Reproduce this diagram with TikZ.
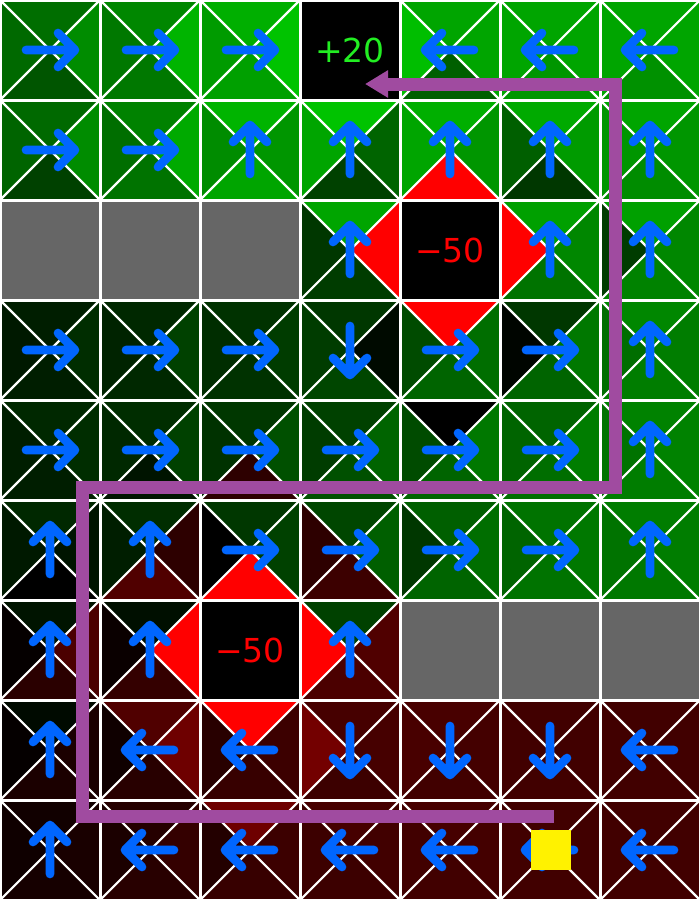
\documentclass[tikz,border=0pt]{standalone}
\usepackage{fontspec}
\setmainfont{DejaVu Sans}
\usetikzlibrary{arrows.meta}
\definecolor{arrblue}{RGB}{0,102,255}
\definecolor{wallgray}{RGB}{102,102,102}
\definecolor{pathpurple}{RGB}{160,75,160}
\definecolor{goodgreen}{RGB}{34,238,34}
\definecolor{badred}{RGB}{255,0,0}
\newcommand\tcol[2]{\ifnum#2<0 \definecolor{#1}{RGB}{\number\numexpr 0-(#2)\relax,0,0}\else\definecolor{#1}{RGB}{0,#2,0}\fi}
\newcommand\qcell[6]{%
 \tcol{cN}{#3}\tcol{cE}{#4}\tcol{cS}{#5}\tcol{cW}{#6}%
 \fill[cN] (#1*100,#2*100) -- (#1*100+100,#2*100) -- (#1*100+50,#2*100+50) -- cycle;
 \fill[cE] (#1*100+100,#2*100) -- (#1*100+100,#2*100+100) -- (#1*100+50,#2*100+50) -- cycle;
 \fill[cS] (#1*100,#2*100+100) -- (#1*100+100,#2*100+100) -- (#1*100+50,#2*100+50) -- cycle;
 \fill[cW] (#1*100,#2*100) -- (#1*100,#2*100+100) -- (#1*100+50,#2*100+50) -- cycle;
 \draw[diagline] (#1*100,#2*100) -- (#1*100+100,#2*100+100) (#1*100+100,#2*100) -- (#1*100,#2*100+100);
}
\newcommand\wall[2]{\fill[wallgray] (#1*100,#2*100) rectangle (#1*100+100,#2*100+100);}
\newcommand\term[3]{\fill[black] (#1*100,#2*100) rectangle (#1*100+100,#2*100+100);}
\newcommand\aR[2]{\draw[polarrow] (#1*100+26,#2*100+50) -- (#1*100+75,#2*100+50) (#1*100+58,#2*100+33) -- (#1*100+75,#2*100+50) -- (#1*100+58,#2*100+67);}
\newcommand\aL[2]{\draw[polarrow] (#1*100+74,#2*100+50) -- (#1*100+25,#2*100+50) (#1*100+42,#2*100+33) -- (#1*100+25,#2*100+50) -- (#1*100+42,#2*100+67);}
\newcommand\aU[2]{\draw[polarrow] (#1*100+50,#2*100+74) -- (#1*100+50,#2*100+25) (#1*100+33,#2*100+42) -- (#1*100+50,#2*100+25) -- (#1*100+67,#2*100+42);}
\newcommand\aD[2]{\draw[polarrow] (#1*100+50,#2*100+26) -- (#1*100+50,#2*100+75) (#1*100+33,#2*100+58) -- (#1*100+50,#2*100+75) -- (#1*100+67,#2*100+58);}
\begin{document}
\begin{tikzpicture}[x=0.75pt,y=-0.75pt,
  diagline/.style={draw=white,line width=1.6pt},
  gridline/.style={draw=white,line width=2.25pt},
  polarrow/.style={draw=arrblue,line width=6.5pt,line cap=round,line join=round},
  rewardtext/.style={font=\fontsize{24.75}{30}\selectfont,inner sep=0pt}]
\useasboundingbox (0,0) rectangle (700,900);
% row 0
\qcell{0}{0}{110}{140}{85}{105}
\qcell{1}{0}{135}{180}{120}{120}
\qcell{2}{0}{175}{195}{160}{155}
\term{3}{0}{}
\qcell{4}{0}{165}{165}{95}{190}
\qcell{5}{0}{165}{165}{150}{165}
\qcell{6}{0}{165}{165}{145}{165}
% row 1
\qcell{0}{1}{105}{140}{65}{100}
\qcell{1}{1}{130}{170}{115}{110}
\qcell{2}{1}{180}{150}{165}{140}
\qcell{3}{1}{195}{100}{65}{165}
\qcell{4}{1}{175}{150}{-255}{165}
\qcell{5}{1}{170}{155}{55}{95}
\qcell{6}{1}{165}{150}{140}{150}
% row 2
\wall{0}{2}\wall{1}{2}\wall{2}{2}
\qcell{3}{2}{165}{-255}{60}{55}
\term{4}{2}{}
\qcell{5}{2}{160}{135}{115}{-255}
\qcell{6}{2}{160}{135}{130}{60}
% row 3
\qcell{0}{3}{30}{45}{30}{25}
\qcell{1}{3}{40}{65}{40}{35}
\qcell{2}{3}{50}{60}{50}{45}
\qcell{3}{3}{55}{10}{70}{60}
\qcell{4}{3}{-255}{110}{100}{75}
\qcell{5}{3}{55}{120}{100}{5}
\qcell{6}{3}{135}{125}{125}{110}
% row 4
\qcell{0}{4}{40}{45}{30}{30}
\qcell{1}{4}{45}{65}{20}{40}
\qcell{2}{4}{55}{80}{-45}{50}
\qcell{3}{4}{65}{100}{80}{60}
\qcell{4}{4}{0}{120}{100}{75}
\qcell{5}{4}{100}{125}{110}{100}
\qcell{6}{4}{130}{130}{125}{115}
% row 5
\qcell{0}{5}{40}{20}{0}{25}
\qcell{1}{5}{45}{-45}{-80}{30}
\qcell{2}{5}{55}{65}{-255}{0}
\qcell{3}{5}{70}{95}{-60}{-45}
\qcell{4}{5}{95}{110}{100}{55}
\qcell{5}{5}{115}{120}{115}{100}
\qcell{6}{5}{125}{125}{120}{115}
% row 6
\qcell{0}{6}{20}{-75}{-42}{-5}
\qcell{1}{6}{15}{-255}{-52}{-10}
\term{2}{6}{}
\qcell{3}{6}{65}{-80}{-75}{-255}
\wall{4}{6}\wall{5}{6}\wall{6}{6}
% row 7
\qcell{0}{7}{10}{-27}{-27}{-5}
\qcell{1}{7}{-80}{-110}{-40}{-15}
\qcell{2}{7}{-255}{-60}{-55}{-40}
\qcell{3}{7}{-70}{-70}{-60}{-115}
\qcell{4}{7}{-72}{-68}{-65}{-72}
\qcell{5}{7}{-65}{-65}{-65}{-65}
\qcell{6}{7}{-65}{-65}{-65}{-65}
% row 8
\qcell{0}{8}{-17}{-25}{-22}{-15}
\qcell{1}{8}{-37}{-52}{-40}{-27}
\qcell{2}{8}{-110}{-60}{-55}{-35}
\qcell{3}{8}{-70}{-65}{-60}{-60}
\qcell{4}{8}{-70}{-68}{-65}{-65}
\qcell{5}{8}{-65}{-65}{-65}{-65}
\qcell{6}{8}{-65}{-65}{-65}{-65}
% grid
\foreach \i in {0,...,7} {\draw[gridline] (\i*100,0) -- (\i*100,900);}
\foreach \j in {0,...,9} {\draw[gridline] (0,\j*100) -- (700,\j*100);}
% policy arrows
\aR{0}{0}\aR{1}{0}\aR{2}{0}\aL{4}{0}\aL{5}{0}\aL{6}{0}
\aR{0}{1}\aR{1}{1}\aU{2}{1}\aU{3}{1}\aU{4}{1}\aU{5}{1}\aU{6}{1}
\aU{3}{2}\aU{5}{2}\aU{6}{2}
\aR{0}{3}\aR{1}{3}\aR{2}{3}\aD{3}{3}\aR{4}{3}\aR{5}{3}\aU{6}{3}
\aR{0}{4}\aR{1}{4}\aR{2}{4}\aR{3}{4}\aR{4}{4}\aR{5}{4}\aU{6}{4}
\aU{0}{5}\aU{1}{5}\aR{2}{5}\aR{3}{5}\aR{4}{5}\aR{5}{5}\aU{6}{5}
\aU{0}{6}\aU{1}{6}\aU{3}{6}
\aU{0}{7}\aL{1}{7}\aL{2}{7}\aD{3}{7}\aD{4}{7}\aD{5}{7}\aL{6}{7}
\aU{0}{8}\aL{1}{8}\aL{2}{8}\aL{3}{8}\aL{4}{8}\aL{5}{8}\aL{6}{8}
% terminal labels
\node[rewardtext,text=goodgreen] (goal) at (350,50) {+20};
\node[rewardtext,text=badred] (pit1) at (450,250) {−50};
\node[rewardtext,text=badred] (pit2) at (250,650) {−50};
% trajectory
\coordinate (p0) at (554,816);
\coordinate (p1) at (82,816);
\coordinate (p2) at (82,487);
\coordinate (p3) at (615,487);
\coordinate (p4) at (615,84);
\coordinate (p5) at (365,84);
\draw[draw=pathpurple,line width=9.75pt,line join=miter,-{Triangle[length=17.25pt,width=19.5pt]}] (p0) -- (p1) -- (p2) -- (p3) -- (p4) -- (p5);
% agent
\node[fill=yellow,minimum size=30pt,inner sep=0pt,draw=none] (agent) at (550.5,849.5) {};
\end{tikzpicture}
\end{document}
